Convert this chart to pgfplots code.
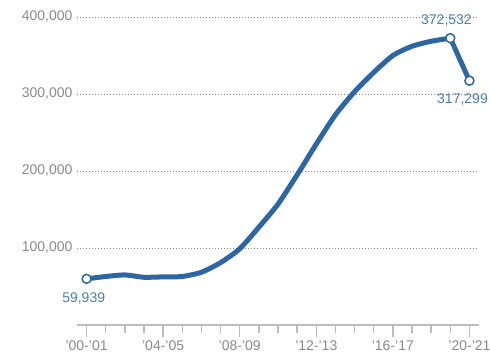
\documentclass[border=0pt]{standalone}
\usepackage{pgfplots}
\pgfplotsset{compat=1.18}
\usepackage{fontspec}
\setmainfont{Liberation Sans}
\definecolor{lineblue}{HTML}{2E66A3}
\definecolor{lblblue}{HTML}{4A7DB6}
\definecolor{tickgray}{HTML}{8A8A8A}
\definecolor{axgray}{HTML}{BDBDBD}
\begin{document}
\begin{tikzpicture}[x=1pt,y=1pt]
\clip (-77pt,-29pt) rectangle (413pt,325pt);
\begin{axis}[
  at={(0,0)}, anchor=south west,
  scale only axis, width=402pt, height=308pt,
  xmin=-0.5, xmax=20.5, ymin=0, ymax=400000,
  clip=false,
  axis x line*=bottom, axis y line*=left,
  y axis line style={draw=none},
  x axis line style={draw=axgray, line width=1.6pt},
  xtick={0,4,8,12,16,20},
  minor xtick={0,1,...,20},
  xticklabels={'00-'01,'04-'05,'08-'09,'12-'13,'16-'17,'20-'21},
  xtick align=outside,
  major tick length=12pt, minor tick length=8pt,
  every tick/.style={draw=axgray, line width=1.3pt},
  ytick={100000,200000,300000,400000},
  ytick style={draw=none},
  scaled y ticks=false,
  /pgf/number format/fixed,
  /pgf/number format/1000 sep={,},
  /pgf/number format/assume math mode=true,
  ymajorgrids,
  grid style={draw=tickgray, dash pattern=on 1pt off 2pt, line width=1pt},
  tick label style={font=\fontsize{14}{16}\selectfont, text=tickgray},
  xticklabel style={yshift=0pt},
  yticklabel style={xshift=-1pt},
]
\addplot[lineblue, line width=5pt, smooth, tension=0.4, line cap=round] coordinates {
 (0,59939) (1,63000) (2,65000) (3,62000) (4,62500) (5,63000) (6,68500)
 (7,81000) (8,99000) (9,127000) (10,157000) (11,195000) (12,235000)
 (13,273000) (14,303000) (15,328000) (16,350000) (17,362000) (18,368500) (19,372532)
};
\addplot[lineblue, line width=5pt, line cap=round] coordinates {(19,372532) (20,317299)};
\addplot[only marks, mark=*, mark size=4.5pt, mark options={draw=lineblue, fill=white, line width=1.5pt}] coordinates {(0,59939) (19,372532) (20,317299)};
\node[text=lblblue, font=\fontsize{14}{16}\selectfont, anchor=north] at (axis cs:-0.15,47000) {59,939};
\node[text=lblblue, font=\fontsize{14}{16}\selectfont, anchor=south] at (axis cs:18.8,383000) {372,532};
\node[text=lblblue, font=\fontsize{14}{16}\selectfont, anchor=north east, inner sep=1pt, xshift=10pt] at (axis cs:20.5,302000) {317,299};
\end{axis}
\end{tikzpicture}
\end{document}
